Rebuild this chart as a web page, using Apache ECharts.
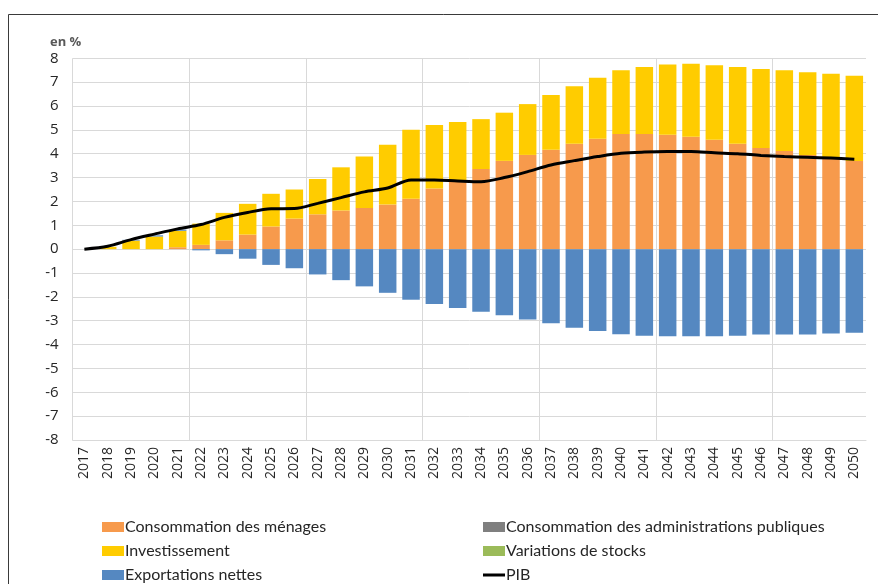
<!DOCTYPE html>
<html>
<head>
<meta charset="utf-8">
<script src="https://cdn.jsdelivr.net/npm/echarts@6/dist/echarts.min.js"></script>
<style>
html,body{margin:0;padding:0;background:#fff;}
#chart{width:878px;height:584px;}
</style>
</head>
<body>
<div id="chart"></div>
<script>
const years = ['2017','2018','2019','2020','2021','2022','2023','2024','2025','2026','2027','2028','2029','2030','2031','2032','2033','2034','2035','2036','2037','2038','2039','2040','2041','2042','2043','2044','2045','2046','2047','2048','2049','2050'];
const consoMenages = [0,0,0,0,0.08,0.18,0.37,0.61,0.95,1.28,1.46,1.62,1.73,1.87,2.11,2.54,2.85,3.36,3.70,3.95,4.17,4.42,4.63,4.83,4.83,4.80,4.71,4.59,4.42,4.24,4.11,3.95,3.85,3.70];
const consoAPU = [0,0,0,0,0,0,0,0,0,0,0,0,0,0,0,0,0,0,0,0,0,0,0,0,0,0,0,0,0,0,0,0,0,0];
const investissement = [0,0.10,0.36,0.53,0.69,0.89,1.15,1.29,1.37,1.22,1.48,1.81,2.15,2.51,2.89,2.66,2.48,2.09,2.02,2.13,2.29,2.41,2.55,2.67,2.81,2.94,3.06,3.12,3.22,3.31,3.39,3.47,3.50,3.57];
const variationsStocks = [0,0,0,0,0,0,0,0,0,0,0,0,0,0,0,0,0,0,0,0,0,0,0,0,0,0,0,0,0,0,0,0,0,0];
const exportationsNettes = [0,0,0.03,0.05,0.05,-0.05,-0.21,-0.40,-0.66,-0.80,-1.06,-1.30,-1.56,-1.83,-2.12,-2.30,-2.47,-2.62,-2.77,-2.95,-3.11,-3.29,-3.43,-3.57,-3.63,-3.65,-3.65,-3.65,-3.63,-3.58,-3.58,-3.58,-3.54,-3.50];
const pib = [0,0.12,0.40,0.63,0.85,1.03,1.33,1.54,1.69,1.70,1.92,2.16,2.40,2.56,2.90,2.90,2.86,2.83,3.00,3.25,3.53,3.71,3.88,4.02,4.07,4.09,4.09,4.04,4.00,3.93,3.88,3.85,3.82,3.77];

const FONT = 'Open Sans';
const LFONT = 'Lato';
const chart = echarts.init(document.getElementById('chart'), null, {renderer:'canvas'});

function bar(name, data, color){
  return {name:name, type:'bar', stack:'total', data:data, barWidth:'75%',
    itemStyle:{color:color}, emphasis:{disabled:true}};
}
function leg(name, left, top, isLine){
  return {left:left, top:top, itemWidth:22, itemHeight:isLine?3:10, itemGap:0, padding:0,
    selectedMode:false,
    data:[isLine ? {name:name, icon:'rect', itemStyle:{color:'#000'}} : {name:name, icon:'rect'}],
    textStyle:{fontFamily:LFONT, fontSize:16, color:'#262626', padding:[0,0,0,-4]}};
}

chart.setOption({
  animation:false,
  backgroundColor:'#fff',
  graphic:[{type:'rect', shape:{x:8.5,y:14.5,width:900,height:600}, style:{fill:'none',stroke:'#3a3a3a',lineWidth:1}, silent:true},
           {type:'text', left:50, top:36, style:{text:'en %', font:'bold 13px "Open Sans"', fill:'#595959'}}],
  grid:{left:72.7, right:12, top:58.3, bottom:144},
  legend:[
    leg('Consommation des ménages', 102, 519, false),
    leg('Investissement', 102, 543, false),
    leg('Exportations nettes', 102, 567, false),
    leg('Consommation des administrations publiques', 483, 519, false),
    leg('Variations de stocks', 483, 543, false),
    leg('PIB', 483, 567, true)
  ],
  xAxis:{type:'category', data:years, boundaryGap:true,
    axisLine:{onZero:false, lineStyle:{color:'#d9d9d9'}},
    axisTick:{show:false},
    axisLabel:{rotate:90, fontFamily:FONT, fontSize:14, color:'#262626', margin:7, interval:0},
    splitLine:{show:true, showMaxLine:false, interval:function(i){return i % 5 === 0;}, lineStyle:{color:'#d9d9d9', width:1}}},
  yAxis:{type:'value', min:-8, max:8, interval:1,
    axisLine:{show:false}, axisTick:{show:false},
    axisLabel:{fontFamily:FONT, fontSize:15, color:'#262626', margin:14},
    splitLine:{lineStyle:{color:'#d9d9d9', width:1}}},
  series:[
    bar('Consommation des ménages', consoMenages, '#F79A4C'),
    bar('Consommation des administrations publiques', consoAPU, '#7F7F7F'),
    bar('Investissement', investissement, '#FFCC00'),
    bar('Variations de stocks', variationsStocks, '#9BBB59'),
    bar('Exportations nettes', exportationsNettes, '#5588C1'),
    {name:'PIB', type:'line', data:pib, smooth:0.3, symbol:'none', z:10,
     lineStyle:{color:'#000', width:3}, itemStyle:{color:'#000'}}
  ]
});
</script>
</body>
</html>
